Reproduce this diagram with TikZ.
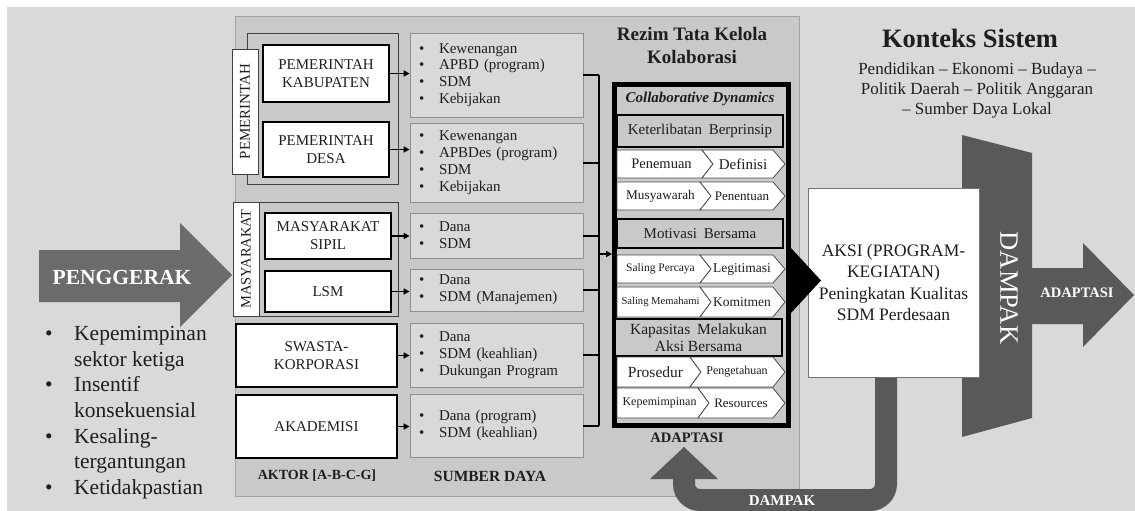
\documentclass[tikz,border=0pt]{standalone}
\usepackage{fontspec}
\setmainfont{Liberation Serif}
\usetikzlibrary{fit,arrows.meta}
\definecolor{bgc}{HTML}{D9D9D9}
\definecolor{panelc}{HTML}{C9C9C9}
\definecolor{panelb}{HTML}{A3A3A3}
\definecolor{resc}{HTML}{D9D9D9}
\definecolor{resb}{HTML}{8F8F8F}
\definecolor{darkc}{HTML}{595959}
\definecolor{pengc}{HTML}{6B6B6B}
\definecolor{txt}{HTML}{1E1E1E}
\newcommand\fsz[2]{\fontsize{#1pt}{#2pt}\selectfont}
\newcommand\bul[1]{\makebox[20pt][l]{\textbullet}#1}
\newcommand\bigbul[1]{\makebox[29pt][l]{\textbullet}#1}
% y1 y2 xsplit lefttext leftsize righttext rightsize name
\newcommand\chevrow[8]{%
  \pgfmathsetmacro\ym{(#1+#2)/2}%
  \filldraw[chv] (617,#1) -- (#3,#1) -- (#3+11,\ym) -- (#3,#2) -- (617,#2) -- cycle;
  \filldraw[chv] (#3,#1) -- (773,#1) -- (785,\ym) -- (773,#2) -- (#3,#2) -- (#3+11,\ym) -- cycle;
  \node[font=\fsz{#5}{#5}] (#8a) at ({(617+#3)/2+2},\ym) {#4};
  \node[font=\fsz{#7}{#7}] (#8b) at ({(#3+11+773)/2},\ym) {#6};
}
\begin{document}
\begin{tikzpicture}[x=1pt,y=-1pt,
  every node/.style={text=txt, inner sep=0pt},
  bb/.style n args={4}{at={({(#1+#3)/2},{(#2+#4)/2})}, minimum width={#3-#1}, minimum height={#4-#2}},
  actor/.style={draw=black, line width=1.8pt, fill=white, align=center, font=\fsz{15}{18}},
  grp/.style={draw=black!75, line width=0.8pt, fill=panelc},
  vlab/.style={draw=black!75, line width=0.8pt, fill=white, rotate=90, minimum height=26pt},
  res/.style={draw=resb, line width=0.8pt, fill=resc, text width=155pt, align=left, font=\fsz{15}{16.8}},
  conn/.style={draw=black, line width=1.5pt, -{Triangle[length=6pt,width=6pt]}},
  busl/.style={draw=black, line width=2pt},
  cdin/.style={draw=black, line width=2pt, fill=panelc, align=center, font=\fsz{15}{17}},
  chv/.style={draw=black!70, line width=0.8pt, fill=white},
  lbl/.style={font=\bfseries\fsz{14.5}{14.5}},
  wlbl/.style={text=white, font=\bfseries\fsz{14.5}{14.5}},
]
\useasboundingbox (0,0) rectangle (1135,511);
\fill[white] (0,0) rectangle (1135,511);
\fill[bgc] (7,7) rectangle (1135,511);

% ---- Penggerak
\fill[pengc] (39,250) -- (180,250) -- (180,223) -- (232,275) -- (180,327) -- (180,302) -- (39,302) -- cycle;
\node[text=white, font=\bfseries\fsz{21.5}{21.5}] (peng) at (122,277) {PENGGERAK};
\node[anchor=north west, align=left, font=\fsz{21.5}{25.7}] (drivers) at (45,326)
  {\bigbul{Kepemimpinan}\\\hspace*{29pt}sektor ketiga\\\bigbul{Insentif}\\\hspace*{29pt}konsekuensial\\\bigbul{Kesaling-}\\\hspace*{29pt}tergantungan\\\bigbul{Ketidakpastian}};

% ---- Context text
\node[font=\bfseries\fsz{26.5}{26.5}] (konteks) at (970,38) {Konteks Sistem};
\node[align=center, font=\fsz{17}{20}] (konteksi) at (977,90)
  {Pendidikan -- Ekonomi -- Budaya --\\Politik Daerah -- Politik Anggaran\\-- Sumber Daya Lokal};

% ---- Panel
\node[draw=panelb, line width=1pt, fill=panelc, bb={235}{17}{799}{496}] (panel) {};
\node[grp, bb={247}{33}{398}{184}] (gpem) {};
\node[grp, bb={259}{202}{398}{316}] (gmas) {};
\node[vlab, minimum width=125pt, font=\fsz{15}{15}] (lpem) at (245,111.5) {PEMERINTAH};
\node[vlab, minimum width=114pt, font=\fsz{14.5}{14.5}] (lmas) at (246,259) {MASYARAKAT};

\node[actor, bb={263}{45}{389}{102}] (kab) {PEMERINTAH\\KABUPATEN};
\node[actor, bb={263}{122}{389}{177}] (desa) {PEMERINTAH\\DESA};
\node[actor, bb={265}{213}{391}{259}] (sipil) {MASYARAKAT\\SIPIL};
\node[actor, bb={265}{271}{391}{312}] (lsm) {LSM};
\node[actor, bb={236}{324}{397}{387}] (swasta) {SWASTA-\\KORPORASI};
\node[actor, bb={236}{395}{397}{458}] (akad) {AKADEMISI};

\node[res, bb={410}{33}{583}{117}] (r1) {\bul{Kewenangan}\\\bul{APBD (program)}\\\bul{SDM}\\\bul{Kebijakan}};
\node[res, bb={410}{123}{583}{202}] (r2) {\bul{Kewenangan}\\\bul{APBDes (program)}\\\bul{SDM}\\\bul{Kebijakan}};
\node[res, bb={410}{213}{583}{258}] (r3) {\bul{Dana}\\\bul{SDM}};
\node[res, bb={410}{269}{583}{311}] (r4) {\bul{Dana}\\\bul{SDM (Manajemen)}};
\node[res, bb={410}{323}{583}{387}] (r5) {\bul{Dana}\\\bul{SDM (keahlian)}\\\bul{Dukungan Program}};
\node[res, bb={410}{394}{583}{457}] (r6) {\bul{Dana (program)}\\\bul{SDM (keahlian)}};

\draw[conn] (kab.east) -- (kab.east -| r1.west);
\draw[conn] (desa.east) -- (desa.east -| r2.west);
\draw[conn] (sipil.east) -- (sipil.east -| r3.west);
\draw[conn] (lsm.east) -- (lsm.east -| r4.west);
\draw[conn] (swasta.east) -- (swasta.east -| r5.west);
\draw[conn] (akad.east) -- (akad.east -| r6.west);

\node[font=\bfseries\fsz{14}{14}] (aktor) at (317,476) {AKTOR [A-B-C-G]};
\node[font=\bfseries\fsz{15.5}{15.5}] (sumber) at (490,476) {SUMBER DAYA};

% ---- Collaborative regime
\node[align=center, font=\bfseries\fsz{19}{23}] (rezim) at (692,46) {Rezim Tata Kelola\\Kolaborasi};
\node[draw=black, line width=5pt, fill=panelc, bb={614.5}{84.5}{788.5}{425.5}] (cd) {};
\coordinate (bus) at (599,254);
\draw[busl] (r1.east -| bus) -- (r6.east -| bus);
\foreach \r in {r1,r2,r3,r4,r5,r6} \draw[busl] (\r.east) -- (\r.east -| bus);
\draw[conn] (bus) -- (bus -| cd.west);

\node[font=\bfseries\itshape\fsz{15}{15}] (cdt) at (700,99) {Collaborative Dynamics};
\node[cdin, bb={617}{115}{783}{147}] (ket) {Keterlibatan\hspace{3pt} Berprinsip};
\chevrow{150}{178}{702}{Penemuan}{14.5}{Definisi}{15}{c1}
\chevrow{182}{210}{700}{Musyawarah}{13.3}{Penentuan}{13}{c2}
\node[cdin, bb={617}{219}{783}{248}] (mot) {Motivasi\hspace{3pt} Bersama};
\chevrow{255}{283}{700}{Saling Percaya}{11.5}{Legitimasi}{13.5}{c3}
\chevrow{287}{317}{700}{Saling Memahami}{10.6}{Komitmen}{13.5}{c4}
\node[cdin, bb={615}{319}{782}{356}, font=\fsz{15.5}{17}] (kap) {Kapasitas\hspace{3pt} Melakukan\\Aksi Bersama};
\chevrow{357}{387}{690}{Prosedur}{15.5}{Pengetahuan}{12}{c5}
\chevrow{388}{418}{698}{Kepemimpinan}{12}{Resources}{13}{c6}
\node[lbl] (adapt1) at (687,438) {ADAPTASI};

% ---- Dampak shape and adaptation arrow
\fill[darkc] (962,135) -- (1032,153) -- (1032,418) -- (962,437) -- cycle;
\node[rotate=-90, text=white, font=\fsz{26.5}{26.5}] (dampak) at (1009,288) {DAMPAK};
\fill[darkc] (1032,268) -- (1083,268) -- (1083,243) -- (1134,295) -- (1083,347) -- (1083,324) -- (1032,324) -- cycle;
\node[wlbl] (adapt2) at (1077,293) {ADAPTASI};

% ---- return arrow (DAMPAK -> ADAPTASI)
\coordinate (rs) at (886,370);
\coordinate (re) at (684,479);
\draw[darkc, line width=22pt, rounded corners=16pt] (rs) -- (886,500) -- (684,500) -- (re);
\fill[darkc] (650,479) -- (684,447) -- (718,479) -- cycle;
\node[wlbl, font=\bfseries\fsz{15}{15}] (dampak2) at (782,501) {DAMPAK};

% ---- Aksi
\node[draw=black!55, line width=1pt, fill=white, align=center, font=\fsz{17.5}{21.5}, bb={808}{188}{979}{377}] (aksi)
  {AKSI (PROGRAM-\\KEGIATAN)\\Peningkatan Kualitas\\SDM Perdesaan};
\fill[black] (cd.east |- 0,248) -- (821,280.5) -- (cd.east |- 0,313) -- cycle;
\end{tikzpicture}
\end{document}
